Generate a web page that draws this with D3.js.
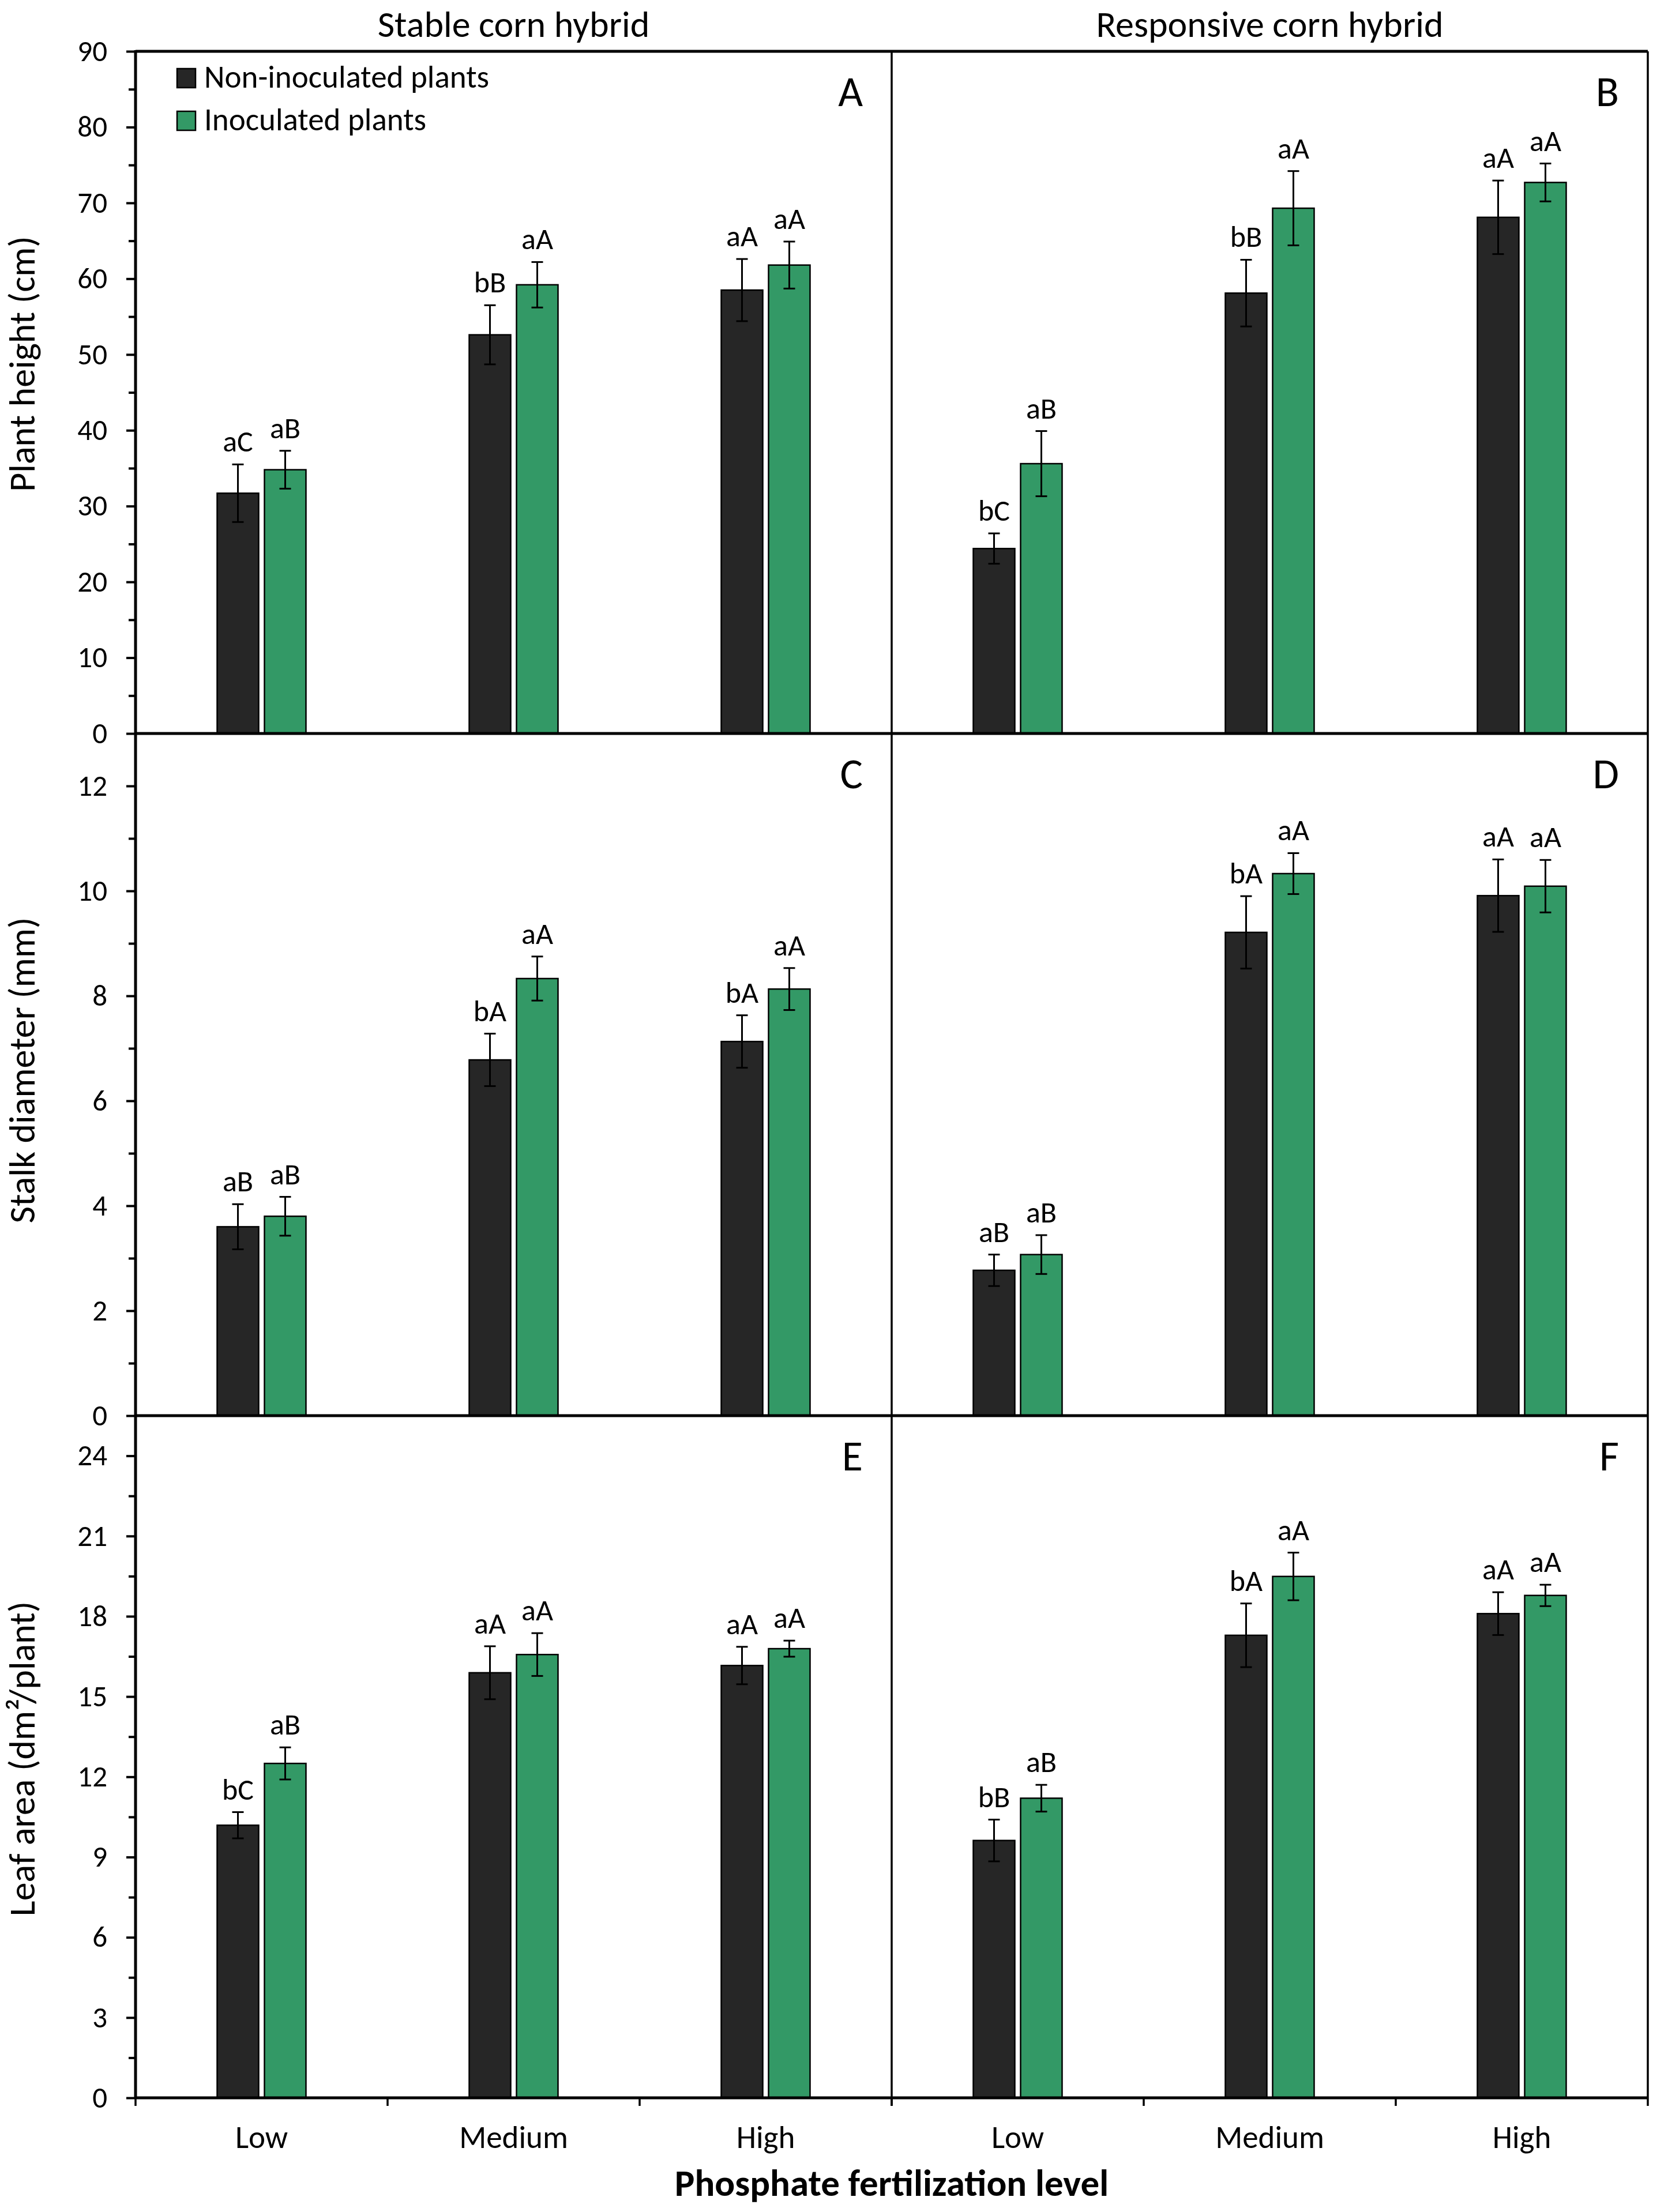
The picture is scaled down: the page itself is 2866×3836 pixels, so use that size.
<!DOCTYPE html>
<html>
<head>
<meta charset="utf-8">
<script src="https://cdn.jsdelivr.net/npm/d3@7"></script>
<style>
  body { margin: 0; background: #fff; }
  svg { display: block; }
  text { font-family: Carlito, Calibri, Lato, sans-serif; fill: #000; }
</style>
</head>
<body>
<svg id="chart" width="2866" height="3836"></svg>
<script>
// ── Data ────────────────────────────────────────────────────────────────────
const levels      = ["Low", "Medium", "High"];
const groupNames  = ["Non-inoculated plants", "Inoculated plants"];
const hybridNames = ["Stable corn hybrid", "Responsive corn hybrid"];
const panelTags   = [["A", "B"], ["C", "D"], ["E", "F"]];
const yTitles     = ["Plant height (cm)", "Stalk diameter (mm)", "Leaf area (dm²/plant)"];
const xTitle      = "Phosphate fertilization level";

const yMax        = [90, 13, 25.5];
const yMajorTicks = [[0, 10, 20, 30, 40, 50, 60, 70, 80, 90],
                     [0, 2, 4, 6, 8, 10, 12],
                     [0, 3, 6, 9, 12, 15, 18, 21, 24]];
const yMinorTicks = [[5, 15, 25, 35, 45, 55, 65, 75, 85],
                     [1, 3, 5, 7, 9, 11],
                     [1.5, 4.5, 7.5, 10.5, 13.5, 16.5, 19.5, 22.5]];

// [non-inoculated, inoculated] x [Low, Medium, High]
const heightStableMean    = [[31.7, 52.6, 58.5], [34.8, 59.2, 61.8]];
const heightStableErr     = [[3.8, 3.9, 4.1],   [2.5, 3.0, 3.1]];
const heightStableLetters = [["aC", "bB", "aA"], ["aB", "aA", "aA"]];

const heightRespMean      = [[24.4, 58.1, 68.1], [35.6, 69.3, 72.7]];
const heightRespErr       = [[2.0, 4.4, 4.85],  [4.3, 4.9, 2.5]];
const heightRespLetters   = [["bC", "bB", "aA"], ["aB", "aA", "aA"]];

const stalkStableMean     = [[3.60, 6.78, 7.13], [3.80, 8.33, 8.13]];
const stalkStableErr      = [[0.43, 0.50, 0.50], [0.37, 0.42, 0.40]];
const stalkStableLetters  = [["aB", "bA", "bA"], ["aB", "aA", "aA"]];

const stalkRespMean       = [[2.77, 9.21, 9.91], [3.07, 10.33, 10.09]];
const stalkRespErr        = [[0.30, 0.69, 0.69], [0.37, 0.39, 0.50]];
const stalkRespLetters    = [["aB", "bA", "aA"], ["aB", "aA", "aA"]];

const leafStableMean      = [[10.19, 15.89, 16.16], [12.50, 16.57, 16.79]];
const leafStableErr       = [[0.49, 0.99, 0.70],  [0.60, 0.80, 0.30]];
const leafStableLetters   = [["bC", "aA", "aA"], ["aB", "aA", "aA"]];

const leafRespMean        = [[9.62, 17.29, 18.10], [11.20, 19.49, 18.78]];
const leafRespErr         = [[0.78, 1.19, 0.80],  [0.50, 0.89, 0.40]];
const leafRespLetters     = [["bB", "bA", "aA"], ["aB", "aA", "aA"]];

const panels = [
  { row: 0, col: 0, mean: heightStableMean, err: heightStableErr, letters: heightStableLetters },
  { row: 0, col: 1, mean: heightRespMean,   err: heightRespErr,   letters: heightRespLetters },
  { row: 1, col: 0, mean: stalkStableMean,  err: stalkStableErr,  letters: stalkStableLetters },
  { row: 1, col: 1, mean: stalkRespMean,    err: stalkRespErr,    letters: stalkRespLetters },
  { row: 2, col: 0, mean: leafStableMean,   err: leafStableErr,   letters: leafStableLetters },
  { row: 2, col: 1, mean: leafRespMean,     err: leafRespErr,     letters: leafRespLetters },
];

// ── Layout ──────────────────────────────────────────────────────────────────
const COLOR  = ["#262626", "#339966"];
const colX   = [235, 1546, 2857];
const rowTop = [89, 1272, 2455];
const PH     = 1183;
const yTitleCenter = [631, 1856, 3050];
const FS = { title: 64, ytitle: 64, tick: 51, legend: 55, label: 52, tag: 74, cat: 55, xtitle: 65 };

const svg = d3.select("#chart");
const g = svg.append("g");

const inner = d3.scaleBand().domain([0, 1]).range([-77, 77]).paddingInner(0.122);

panels.forEach(p => {
  const x = d3.scaleBand().domain(levels).range([colX[p.col], colX[p.col + 1]]);
  const y = d3.scaleLinear().domain([0, yMax[p.row]]).range([rowTop[p.row] + PH, rowTop[p.row]]);
  const pg = g.append("g").attr("class", `panel-${panelTags[p.row][p.col]}`);

  // bars, error bars, letters
  [0, 1].forEach(k => {
    levels.forEach((lv, i) => {
      const v = p.mean[k][i], e = p.err[k][i];
      const bx = x(lv) + x.bandwidth() / 2 + inner(k);
      const cx = bx + inner.bandwidth() / 2;
      pg.append("rect")
        .attr("x", bx).attr("y", y(v))
        .attr("width", inner.bandwidth()).attr("height", y(0) - y(v))
        .attr("fill", COLOR[k]).attr("stroke", "#000").attr("stroke-width", 2.5);
      pg.append("line").attr("x1", cx).attr("x2", cx)
        .attr("y1", y(v - e)).attr("y2", y(v + e))
        .attr("stroke", "#000").attr("stroke-width", 3);
      [v - e, v + e].forEach(t => {
        pg.append("line").attr("x1", cx - 10).attr("x2", cx + 10)
          .attr("y1", y(t)).attr("y2", y(t))
          .attr("stroke", "#000").attr("stroke-width", 3);
      });
      pg.append("text")
        .attr("x", cx).attr("y", y(v + e) - 22)
        .attr("text-anchor", "middle").attr("font-size", FS.label)
        .text(p.letters[k][i]);
    });
  });

  // y axis with labels only on the left column
  if (p.col === 0) {
    const ax = pg.append("g").attr("transform", `translate(${colX[0]},0)`)
      .call(d3.axisLeft(y).tickValues(yMajorTicks[p.row]).tickSize(16).tickPadding(33)
        .tickFormat(d => String(d)));
    ax.attr("font-family", null).attr("font-size", null);
    ax.select(".domain").remove();
    ax.selectAll("line").attr("stroke", "#000").attr("stroke-width", 4);
    ax.selectAll("text").attr("font-size", FS.tick);

    const mn = pg.append("g").attr("transform", `translate(${colX[0]},0)`)
      .call(d3.axisLeft(y).tickValues(yMinorTicks[p.row]).tickSize(12).tickFormat(""));
    mn.select(".domain").remove();
    mn.selectAll("line").attr("stroke", "#000").attr("stroke-width", 4);

    g.append("text")
      .attr("transform", `translate(60,${yTitleCenter[p.row]}) rotate(-90)`)
      .attr("text-anchor", "middle").attr("font-size", FS.ytitle)
      .text(yTitles[p.row]);
  }

  // category axis on the bottom row
  if (p.row === 2) {
    const bx = pg.append("g").attr("transform", `translate(0,${y(0)})`)
      .call(d3.axisBottom(x).tickSize(0).tickPadding(48));
    bx.attr("font-family", null).attr("font-size", null);
    bx.select(".domain").remove();
    bx.selectAll("text").attr("font-size", FS.cat);

    const bounds = levels.map(d => x(d)).concat([x.range()[1]]);
    pg.selectAll(null).data(bounds).join("line")
      .attr("x1", d => d).attr("x2", d => d)
      .attr("y1", y(0)).attr("y2", y(0) + 14)
      .attr("stroke", "#000").attr("stroke-width", 3.5);
  }

  // panel tag
  pg.append("text")
    .attr("x", colX[p.col + 1] - 50).attr("y", rowTop[p.row] + 95)
    .attr("text-anchor", "end").attr("font-size", FS.tag)
    .text(panelTags[p.row][p.col]);
});

// ── Frame lines ─────────────────────────────────────────────────────────────
const bottom = rowTop[2] + PH;
g.append("line").attr("x1", colX[0]).attr("x2", colX[2])
  .attr("y1", rowTop[0]).attr("y2", rowTop[0])
  .attr("stroke", "#000").attr("stroke-width", 5);
rowTop.forEach(t => {
  g.append("line").attr("x1", colX[0]).attr("x2", colX[2])
    .attr("y1", t + PH).attr("y2", t + PH)
    .attr("stroke", "#000").attr("stroke-width", 5);
});
g.append("line").attr("x1", colX[0]).attr("x2", colX[0])
  .attr("y1", rowTop[0] - 2).attr("y2", bottom + 2)
  .attr("stroke", "#000").attr("stroke-width", 5);
[colX[1], colX[2]].forEach(cx => {
  g.append("line").attr("x1", cx).attr("x2", cx)
    .attr("y1", rowTop[0]).attr("y2", bottom)
    .attr("stroke", "#000").attr("stroke-width", 3.5);
});

// ── Titles ──────────────────────────────────────────────────────────────────
hybridNames.forEach((h, i) => {
  g.append("text")
    .attr("x", (colX[i] + colX[i + 1]) / 2).attr("y", 64)
    .attr("text-anchor", "middle").attr("font-size", FS.title)
    .text(h);
});
g.append("text")
  .attr("x", (colX[0] + colX[2]) / 2).attr("y", 3808)
  .attr("text-anchor", "middle").attr("font-size", FS.xtitle).attr("font-weight", "bold")
  .text(xTitle);

// ── Legend ──────────────────────────────────────────────────────────────────
const legendBase = [152, 226];
groupNames.forEach((n, k) => {
  g.append("rect")
    .attr("x", 307).attr("y", legendBase[k] - 33)
    .attr("width", 32).attr("height", 33)
    .attr("fill", COLOR[k]).attr("stroke", "#000").attr("stroke-width", 2.5);
  g.append("text")
    .attr("x", 354).attr("y", legendBase[k])
    .attr("font-size", FS.legend)
    .text(n);
});
</script>
</body>
</html>
